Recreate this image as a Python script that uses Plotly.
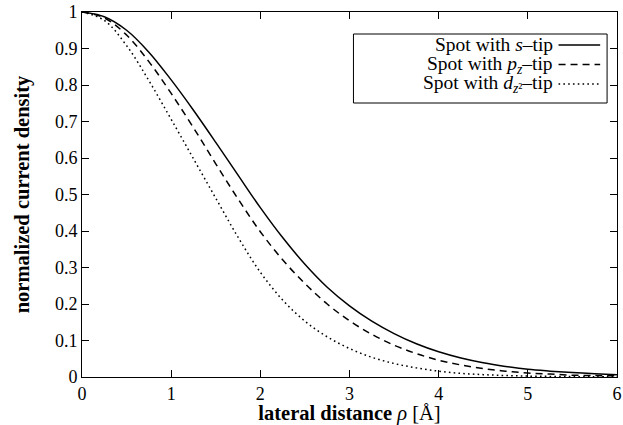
import plotly.graph_objects as go

# lateral distance rho [Å]
rho = [0.0, 0.25, 0.5, 0.75, 1.0, 1.25, 1.5, 1.75, 2.0, 2.25, 2.5, 2.75, 3.0,
       3.25, 3.5, 3.75, 4.0, 4.25, 4.5, 4.75, 5.0, 5.25, 5.5, 5.75, 6.0]

# normalized current density
s_tip = [1.0, 0.987, 0.950, 0.890, 0.814, 0.731, 0.643, 0.553, 0.464, 0.382, 0.309,
         0.246, 0.195, 0.153, 0.119, 0.091, 0.069, 0.052, 0.039, 0.029, 0.021,
         0.016, 0.012, 0.009, 0.006]
pz_tip = [1.0, 0.984, 0.937, 0.864, 0.777, 0.683, 0.584, 0.488, 0.398, 0.321, 0.256,
          0.200, 0.154, 0.117, 0.087, 0.064, 0.046, 0.033, 0.023, 0.016, 0.011,
          0.008, 0.005, 0.004, 0.003]
dz2_tip = [1.0, 0.977, 0.908, 0.812, 0.706, 0.598, 0.490, 0.383, 0.287, 0.211, 0.153,
           0.110, 0.078, 0.054, 0.037, 0.025, 0.016, 0.010, 0.0065, 0.004, 0.0025,
           0.0016, 0.001, 0.0006, 0.0004]

names = ["Spot with <i>s</i>\u2013tip",
         "Spot with <i>p<sub>z</sub></i>\u2013tip",
         "Spot with <i>d</i><sub><i>z</i>\u00b2</sub>\u2013tip"]
series = [s_tip, pz_tip, dz2_tip]
dashes = ["solid", "7px,5px", "1.6px,3.2px"]

x_ticks = [0, 1, 2, 3, 4, 5, 6]
y_ticks = [0, 0.1, 0.2, 0.3, 0.4, 0.5, 0.6, 0.7, 0.8, 0.9, 1]
y_ticktext = ["0", "0.1", "0.2", "0.3", "0.4", "0.5", "0.6", "0.7", "0.8", "0.9", "1"]

FONT = "Liberation Serif"
W, H = 623, 425
ML, MR, MT, MB = 82, 1, 12, 48
PW, PH = W - ML - MR, H - MT - MB

fig = go.Figure()
for name, ys, d in zip(names, series, dashes):
    fig.add_trace(go.Scatter(x=rho, y=ys, mode="lines", name=name,
                             line=dict(color="black", width=1.5, dash=d, shape="spline", smoothing=1.0),
                             showlegend=False))

axis_common = dict(showgrid=False, zeroline=False, showline=True, linecolor="black", linewidth=1,
                   mirror="ticks", ticks="inside", ticklen=7, tickcolor="black", tickwidth=1,
                   ticklabeloverflow="allow",
                   tickfont=dict(family=FONT, size=18, color="black"))

fig.update_xaxes(range=[0, 6], tickvals=x_ticks, ticktext=[str(v) for v in x_ticks],
                 title=dict(text="<b>lateral distance</b> <i>\u03c1</i> [\u00c5]",
                            font=dict(family=FONT, size=20.5, color="black"), standoff=5),
                 **axis_common)
fig.update_yaxes(range=[0, 1], tickvals=y_ticks, ticktext=y_ticktext,
                 title=dict(text="<b>normalized current density</b>",
                            font=dict(family=FONT, size=20.5, color="black"), standoff=19),
                 **axis_common)

# custom legend (text left, sample right), positioned in pixels converted to paper
def px_x(px):
    return (px - ML) / PW

def px_y(py):
    return (H - MB - py) / PH

fig.add_shape(type="rect", xref="paper", yref="paper",
              x0=px_x(356), x1=px_x(612), y0=px_y(103), y1=px_y(34),
              line=dict(color="black", width=1), fillcolor="white", layer="above")
rows = [45, 64.5, 84]
for name, d, ry in zip(names, dashes, rows):
    fig.add_annotation(xref="paper", yref="paper", x=px_x(559), y=px_y(ry),
                       xanchor="right", yanchor="middle", text=name, showarrow=False,
                       font=dict(family=FONT, size=19.5, color="black"))
    fig.add_shape(type="line", xref="paper", yref="paper",
                  x0=px_x(563), x1=px_x(605), y0=px_y(ry), y1=px_y(ry),
                  line=dict(color="black", width=1.5, dash=d), layer="above")

fig.update_layout(width=W, height=H, margin=dict(l=ML, r=MR, t=MT, b=MB),
                  plot_bgcolor="white", paper_bgcolor="white",
                  font=dict(family=FONT, color="black"))

fig.write_html("out.html")
